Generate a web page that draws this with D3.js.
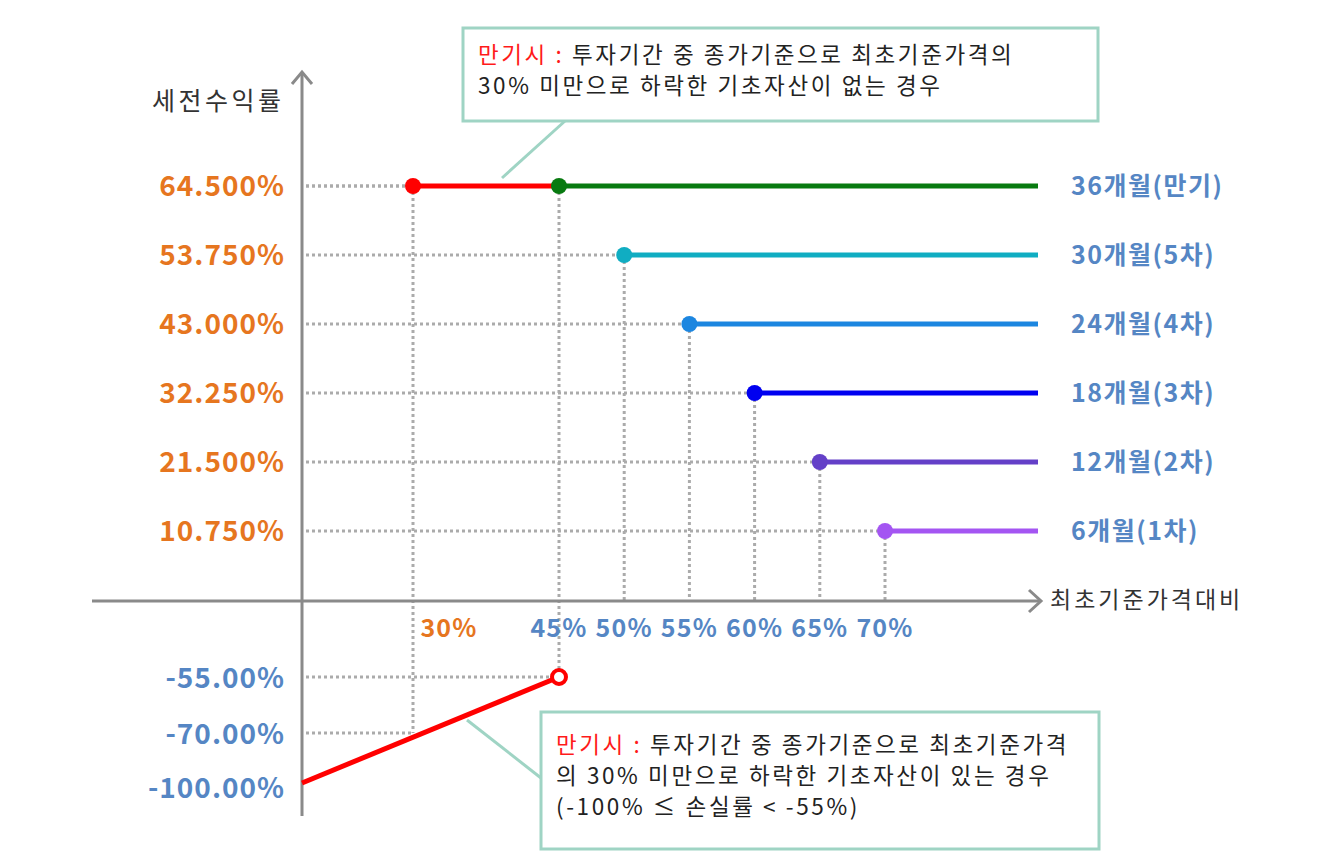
<!DOCTYPE html>
<html>
<head>
<meta charset="utf-8">
<script src="https://cdn.jsdelivr.net/npm/d3@7"></script>
<style>
  body { margin: 0; background: #fff; }
  svg { font-family: "Noto Sans CJK KR", "Noto Sans", sans-serif; }
</style>
</head>
<body>
<div id="chart"></div>
<script>
// data
const stages = ["6개월(1차)", "12개월(2차)", "18개월(3차)", "24개월(4차)", "30개월(5차)", "36개월(만기)"];
const barriers = [70, 65, 60, 55, 50, 45];
const returns = [10.75, 21.5, 32.25, 43, 53.75, 64.5];
const stageColors = ["#a455f2", "#6440c8", "#0000f0", "#1c86e0", "#10adc2", "#087a10"];
const xTicks = [30, 45, 50, 55, 60, 65, 70];
const lossTicks = [-55, -70, -100];
const kiBarrier = 30;
const lossX = [0, 45];
const lossY = [-100, -55];

const width = 1324, height = 857;
const plotRight = 1038;

const svg = d3.select("#chart").append("svg")
  .attr("width", width)
  .attr("height", height);

// schematic (piecewise) scales
const x = d3.scaleLinear().domain([0, 30, 45, 70]).range([302, 413, 559, 885]);
const y = d3.scaleLinear().domain([-100, -70, -55, 0, 64.5]).range([783, 733, 677, 600, 186]);

const grey = "#8a8a8a";
const dotted = "#ababab";
const orange = "#e6761f";
const blue = "#5586c4";

// dotted guide lines
const guides = svg.append("g")
  .attr("stroke", dotted)
  .attr("stroke-width", 3)
  .attr("stroke-dasharray", "3 3");

const maxRet = d3.max(returns);
guides.append("line")
  .attr("x1", x(0) + 4).attr("x2", x(kiBarrier))
  .attr("y1", y(maxRet)).attr("y2", y(maxRet));
guides.append("line")
  .attr("x1", x(kiBarrier)).attr("x2", x(kiBarrier))
  .attr("y1", y(maxRet)).attr("y2", y(-70));

returns.forEach((r, i) => {
  guides.append("line")
    .attr("x1", x(0) + 4).attr("x2", x(barriers[i]))
    .attr("y1", y(r)).attr("y2", y(r));
  guides.append("line")
    .attr("x1", x(barriers[i])).attr("x2", x(barriers[i]))
    .attr("y1", y(r)).attr("y2", y(0));
});

// guides for loss area
guides.append("line")
  .attr("x1", x(lossX[1])).attr("x2", x(lossX[1]))
  .attr("y1", y(0)).attr("y2", y(lossY[1]));
guides.append("line")
  .attr("x1", x(0) + 4).attr("x2", x(lossX[1]))
  .attr("y1", y(lossY[1])).attr("y2", y(lossY[1]));
guides.append("line")
  .attr("x1", x(0) + 4).attr("x2", x(kiBarrier))
  .attr("y1", y(-70)).attr("y2", y(-70));

// axes
const axes = svg.append("g")
  .attr("stroke", grey)
  .attr("stroke-width", 3)
  .attr("fill", "none");
axes.append("line").attr("x1", 92).attr("x2", 1040).attr("y1", y(0) + 1).attr("y2", y(0) + 1);
axes.append("line").attr("x1", x(0)).attr("x2", x(0)).attr("y1", 816).attr("y2", 72);
axes.append("path").attr("d", `M${x(0) - 10},${84} L${x(0)},${72} L${x(0) + 10},${84}`);
axes.append("path").attr("d", `M${1029},${y(0) - 10} L${1041},${y(0) + 1} L${1029},${y(0) + 12}`);

// red line: from ki barrier to first observation
svg.append("line")
  .attr("x1", x(kiBarrier)).attr("x2", x(barriers[5]))
  .attr("y1", y(maxRet)).attr("y2", y(maxRet))
  .attr("stroke", "#ff0000").attr("stroke-width", 5);

// redemption lines
returns.forEach((r, i) => {
  svg.append("line")
    .attr("x1", x(barriers[i])).attr("x2", plotRight)
    .attr("y1", y(r)).attr("y2", y(r))
    .attr("stroke", stageColors[i]).attr("stroke-width", 5);
});

// loss line
svg.append("line")
  .attr("x1", x(lossX[0])).attr("x2", x(lossX[1]))
  .attr("y1", y(lossY[0])).attr("y2", y(lossY[1]))
  .attr("stroke", "#ff0000").attr("stroke-width", 5);

// markers
svg.append("circle")
  .attr("cx", x(kiBarrier)).attr("cy", y(maxRet)).attr("r", 8)
  .attr("fill", "#ff0000");
returns.forEach((r, i) => {
  svg.append("circle")
    .attr("cx", x(barriers[i])).attr("cy", y(r)).attr("r", 8)
    .attr("fill", stageColors[i]);
});
svg.append("circle")
  .attr("cx", x(lossX[1])).attr("cy", y(lossY[1])).attr("r", 7)
  .attr("fill", "#fff").attr("stroke", "#ff0000").attr("stroke-width", 4);

// y tick labels
const fmtPos = d => d3.format(".3f")(d) + "%";
const fmtNeg = d => d3.format(".2f")(d).replace("\u2212", "-") + "%";
svg.append("g").selectAll("text")
  .data(returns)
  .join("text")
  .attr("x", 285).attr("y", d => y(d))
  .attr("dy", "0.36em")
  .attr("text-anchor", "end")
  .attr("font-size", 28).attr("font-weight", "bold")
  .attr("letter-spacing", 1)
  .attr("fill", orange)
  .text(fmtPos);
svg.append("g").selectAll("text")
  .data(lossTicks)
  .join("text")
  .attr("x", 285).attr("y", d => y(d) + (d === -100 ? 5 : 1))
  .attr("dy", "0.36em")
  .attr("text-anchor", "end")
  .attr("font-size", 28).attr("font-weight", "bold")
  .attr("letter-spacing", 1)
  .attr("fill", blue)
  .text(fmtNeg);

// x tick labels
svg.append("g").selectAll("text")
  .data(xTicks)
  .join("text")
  .attr("x", d => d === kiBarrier ? x(d) + 36 : x(d))
  .attr("y", 628)
  .attr("dy", "0.36em")
  .attr("text-anchor", "middle")
  .attr("font-size", 25).attr("font-weight", "bold")
  .attr("letter-spacing", 1.2)
  .attr("fill", d => d === kiBarrier ? orange : blue)
  .text(d => d + "%");

// stage labels
svg.append("g").selectAll("text")
  .data(stages)
  .join("text")
  .attr("x", 1071)
  .attr("y", (d, i) => y(returns[i]))
  .attr("dy", "0.36em")
  .attr("font-size", 25).attr("font-weight", "bold")
  .attr("letter-spacing", 1.5)
  .attr("fill", blue)
  .text(d => d);

// axis titles
svg.append("text")
  .attr("x", 152).attr("y", 101).attr("dy", "0.36em")
  .attr("font-size", 25).attr("fill", "#333")
  .attr("letter-spacing", 3.5)
  .text("세전수익률");
svg.append("text")
  .attr("x", 1050).attr("y", 600).attr("dy", "0.36em")
  .attr("font-size", 23).attr("fill", "#333")
  .attr("letter-spacing", 3)
  .text("최초기준가격대비");

// annotation boxes
const mint = "#9fd4c4";
function note(bx, by, bw, bh, top, lines, pointer) {
  svg.append("line")
    .attr("x1", pointer[0][0]).attr("y1", pointer[0][1])
    .attr("x2", pointer[1][0]).attr("y2", pointer[1][1])
    .attr("stroke", mint).attr("stroke-width", 3);
  svg.append("rect")
    .attr("x", bx).attr("y", by).attr("width", bw).attr("height", bh)
    .attr("fill", "#fff").attr("stroke", mint).attr("stroke-width", 3);
  lines.forEach((ln, i) => {
    const t = svg.append("text")
      .attr("x", bx + 15).attr("y", by + top + i * 31)
      .attr("dy", "0.36em")
      .attr("font-size", 22.5).attr("fill", "#222")
      .attr("letter-spacing", 2.6);
    if (i === 0) {
      t.append("tspan").attr("fill", "#ff1a1a").text("만기시 : ");
    }
    t.append("tspan").text(ln);
  });
}

note(463, 28, 635, 93, 27,
  ["투자기간 중 종가기준으로 최초기준가격의", "30% 미만으로 하락한 기초자산이 없는 경우"],
  [[565, 121], [502, 178]]);
note(541, 712, 558, 137, 33,
  ["투자기간 중 종가기준으로 최초기준가격", "의 30% 미만으로 하락한 기초자산이 있는 경우", "(-100% ≤ 손실률 < -55%)"],
  [[541, 778], [467, 720]]);
</script>
</body>
</html>
